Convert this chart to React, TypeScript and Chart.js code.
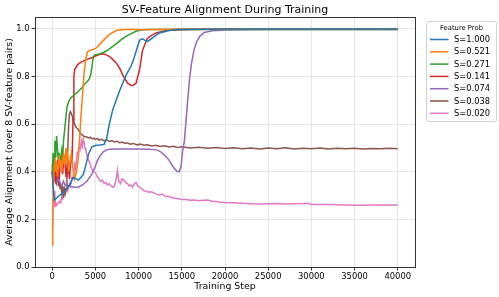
import React, { useEffect, useRef } from "react";
import { Chart, registerables } from "chart.js";

Chart.register(...registerables);

const chartTitle = "SV-Feature Alignment During Training";
const xAxisTitle = "Training Step";
const yAxisTitle = "Average Alignment (over 8 SV-feature pairs)";
const legendTitle = "Feature Prob";
const xTickValues = [0, 5000, 10000, 15000, 20000, 25000, 30000, 35000, 40000];
const yTickValues = [0, 0.2, 0.4, 0.6, 0.8, 1.0];

const seriesLabels = ["S=1.000", "S=0.521", "S=0.271", "S=0.141", "S=0.074", "S=0.038", "S=0.020"];
const seriesColors = ["#1f77b4", "#ff7f0e", "#2ca02c", "#d62728", "#9467bd", "#8c564b", "#e377c2"];

const blueSteps = [0, 100, 250, 500, 800, 1200, 1500, 1800, 2100, 2400, 2700, 3000, 3300, 3600, 3900, 4200, 4600, 5000, 5500, 6000, 6300, 6600, 7000, 7400, 7800, 8150, 8600, 9100, 9400, 9700, 10100, 10450, 10750, 11050, 11600, 12000, 12400, 13500, 14500, 16000, 20000, 30000, 40000];
const blueValues = [0.40, 0.33, 0.28, 0.29, 0.30, 0.31, 0.32, 0.335, 0.35, 0.375, 0.372, 0.365, 0.375, 0.39, 0.43, 0.475, 0.505, 0.51, 0.512, 0.515, 0.54, 0.60, 0.66, 0.70, 0.74, 0.772, 0.81, 0.842, 0.87, 0.905, 0.952, 0.958, 0.952, 0.948, 0.962, 0.973, 0.983, 0.993, 0.997, 0.999, 1.0, 1.0, 1.0];

const orangeSteps = [0, 50, 100, 200, 300, 400, 500, 600, 700, 800, 900, 1000, 1100, 1200, 1300, 1400, 1500, 1600, 1700, 1800, 1900, 2000, 2200, 2400, 2600, 2800, 3000, 3100, 3300, 3500, 3700, 3900, 4100, 4400, 4800, 5100, 5460, 6000, 6600, 7400, 8150, 9500, 10500, 12000, 15000, 40000];
const orangeValues = [0.09, 0.17, 0.30, 0.42, 0.46, 0.40, 0.44, 0.38, 0.43, 0.47, 0.42, 0.45, 0.40, 0.44, 0.48, 0.43, 0.46, 0.50, 0.44, 0.47, 0.40, 0.43, 0.48, 0.41, 0.37, 0.40, 0.45, 0.50, 0.62, 0.72, 0.82, 0.88, 0.905, 0.91, 0.915, 0.92, 0.934, 0.955, 0.976, 0.993, 0.997, 0.997, 0.996, 0.998, 1.0, 1.0];

const greenSteps = [0, 100, 200, 300, 400, 500, 600, 700, 800, 900, 1000, 1100, 1200, 1300, 1500, 1700, 1900, 2150, 2600, 3000, 3500, 3800, 4200, 4400, 4550, 4700, 4850, 5460, 6000, 6500, 7000, 7500, 8000, 8540, 9000, 9700, 10200, 10800, 12000, 40000];
const greenValues = [0.40, 0.48, 0.43, 0.53, 0.46, 0.55, 0.50, 0.44, 0.48, 0.42, 0.46, 0.49, 0.45, 0.53, 0.60, 0.67, 0.695, 0.71, 0.725, 0.737, 0.755, 0.77, 0.785, 0.80, 0.83, 0.87, 0.89, 0.895, 0.902, 0.913, 0.927, 0.94, 0.955, 0.969, 0.978, 0.99, 0.995, 0.997, 0.998, 0.998];

const redSteps = [0, 100, 200, 300, 400, 500, 600, 700, 800, 900, 1000, 1100, 1200, 1300, 1400, 1500, 1600, 1700, 1800, 1900, 2000, 2100, 2200, 2300, 2400, 2500, 2600, 2800, 3000, 3500, 4000, 4500, 5000, 5500, 6000, 6600, 7000, 7400, 7800, 8150, 8700, 9100, 9400, 9700, 10100, 10450, 11000, 11600, 12000, 13200, 15000, 18000, 40000];
const redValues = [0.40, 0.36, 0.43, 0.38, 0.35, 0.41, 0.45, 0.40, 0.37, 0.42, 0.46, 0.43, 0.39, 0.44, 0.47, 0.42, 0.38, 0.41, 0.44, 0.40, 0.37, 0.42, 0.46, 0.44, 0.62, 0.80, 0.83, 0.842, 0.852, 0.864, 0.872, 0.878, 0.886, 0.893, 0.895, 0.885, 0.872, 0.857, 0.835, 0.807, 0.773, 0.762, 0.764, 0.772, 0.828, 0.91, 0.96, 0.975, 0.983, 0.993, 0.996, 0.999, 0.999];

const purpleSteps = [0, 100, 200, 300, 400, 500, 700, 900, 1100, 1300, 1500, 1800, 2100, 2500, 3000, 3500, 4000, 4500, 4900, 5200, 5500, 5900, 6400, 7000, 8000, 9000, 10000, 11000, 12000, 12500, 13000, 13500, 14000, 14400, 14700, 14900, 15100, 15300, 15500, 15700, 15900, 16100, 16400, 16700, 17100, 17600, 18500, 20000, 25000, 30000, 40000];
const purpleValues = [0.43, 0.38, 0.42, 0.36, 0.39, 0.35, 0.37, 0.355, 0.34, 0.36, 0.345, 0.34, 0.338, 0.335, 0.335, 0.345, 0.36, 0.385, 0.415, 0.445, 0.465, 0.484, 0.494, 0.496, 0.496, 0.496, 0.496, 0.495, 0.493, 0.485, 0.47, 0.45, 0.42, 0.403, 0.40, 0.42, 0.49, 0.53, 0.62, 0.71, 0.79, 0.85, 0.91, 0.945, 0.97, 0.985, 0.992, 0.995, 0.997, 0.998, 0.998];

const brownSteps = [0, 100, 200, 300, 400, 500, 600, 700, 800, 900, 1000, 1100, 1200, 1300, 1400, 1500, 1600, 1700, 1800, 1900, 2000, 2100, 2200, 2300, 2400, 2500, 2600, 2700, 2800, 3000, 3200, 3400, 3700, 4000, 4200, 4400, 4600, 4800, 5000, 5200, 5400, 5700, 6000, 6300, 6600, 6900, 7200, 7500, 7800, 8100, 8400, 8700, 9000, 9400, 9800, 10200, 10600, 11000, 11500, 12000, 12500, 13000, 13500, 14000, 14500, 15000, 16000, 17000, 18000, 19000, 20000, 21000, 22000, 23000, 24000, 25000, 26000, 27000, 28000, 29000, 30000, 31000, 32000, 33000, 34000, 35000, 36000, 37000, 38000, 39000, 40000];
const brownValues = [0.40, 0.35, 0.43, 0.38, 0.42, 0.36, 0.40, 0.34, 0.37, 0.33, 0.35, 0.31, 0.34, 0.29, 0.33, 0.31, 0.33, 0.40, 0.50, 0.60, 0.645, 0.653, 0.645, 0.635, 0.62, 0.61, 0.60, 0.59, 0.585, 0.578, 0.565, 0.556, 0.548, 0.546, 0.542, 0.545, 0.538, 0.541, 0.536, 0.540, 0.533, 0.536, 0.530, 0.534, 0.527, 0.531, 0.525, 0.528, 0.522, 0.525, 0.519, 0.522, 0.516, 0.519, 0.513, 0.516, 0.511, 0.513, 0.508, 0.511, 0.506, 0.509, 0.504, 0.507, 0.502, 0.505, 0.500, 0.503, 0.499, 0.502, 0.498, 0.501, 0.497, 0.500, 0.496, 0.500, 0.497, 0.501, 0.496, 0.499, 0.497, 0.500, 0.496, 0.499, 0.497, 0.499, 0.496, 0.498, 0.497, 0.499, 0.497];

const pinkSteps = [0, 50, 100, 200, 300, 400, 500, 600, 700, 800, 900, 1000, 1100, 1200, 1300, 1400, 1500, 1600, 1700, 1800, 1900, 2000, 2100, 2200, 2300, 2400, 2500, 2600, 2700, 2800, 2900, 3000, 3100, 3200, 3300, 3400, 3500, 3600, 3700, 3800, 3900, 4000, 4200, 4400, 4600, 4800, 5000, 5200, 5400, 5600, 5800, 6000, 6200, 6400, 6600, 6800, 7000, 7200, 7400, 7550, 7700, 7900, 8100, 8300, 8500, 8700, 8900, 9100, 9300, 9500, 9700, 9900, 10100, 10300, 10600, 10900, 11200, 11500, 11800, 12100, 12400, 12700, 13000, 13500, 14000, 14500, 15000, 15500, 16000, 16500, 17000, 17500, 18000, 18500, 19000, 19500, 20000, 21000, 22000, 23000, 24000, 25000, 26000, 27000, 28000, 29000, 29500, 30000, 31000, 32000, 33000, 34000, 35000, 36000, 37000, 38000, 39000, 40000];
const pinkValues = [0.17, 0.22, 0.28, 0.32, 0.25, 0.27, 0.26, 0.265, 0.27, 0.275, 0.27, 0.28, 0.29, 0.285, 0.30, 0.31, 0.305, 0.32, 0.33, 0.32, 0.34, 0.35, 0.34, 0.36, 0.38, 0.37, 0.40, 0.43, 0.41, 0.45, 0.48, 0.47, 0.50, 0.52, 0.50, 0.53, 0.51, 0.535, 0.52, 0.50, 0.49, 0.47, 0.45, 0.43, 0.41, 0.40, 0.395, 0.38, 0.37, 0.36, 0.365, 0.35, 0.355, 0.345, 0.35, 0.34, 0.335, 0.34, 0.37, 0.405, 0.36, 0.35, 0.37, 0.365, 0.355, 0.35, 0.34, 0.345, 0.335, 0.35, 0.355, 0.34, 0.335, 0.33, 0.32, 0.318, 0.314, 0.316, 0.31, 0.305, 0.303, 0.306, 0.298, 0.296, 0.29, 0.288, 0.284, 0.283, 0.28, 0.281, 0.278, 0.28, 0.281, 0.276, 0.275, 0.272, 0.271, 0.27, 0.268, 0.266, 0.265, 0.266, 0.267, 0.265, 0.266, 0.267, 0.268, 0.263, 0.263, 0.262, 0.261, 0.26, 0.259, 0.259, 0.26, 0.26, 0.26, 0.26];

const seriesSteps = [blueSteps, orangeSteps, greenSteps, redSteps, purpleSteps, brownSteps, pinkSteps];
const seriesValues = [blueValues, orangeValues, greenValues, redValues, purpleValues, brownValues, pinkValues];

const FONT = '"DejaVu Sans", "Liberation Sans", sans-serif';

const decorPlugin = {
  id: "decor",
  afterDraw(chart: any) {
    const { ctx, chartArea: a } = chart;
    ctx.save();
    ctx.strokeStyle = "#333333";
    ctx.lineWidth = 1;
    ctx.strokeRect(Math.round(a.left) + 0.5, Math.round(a.top) + 0.5, Math.round(a.right - a.left), Math.round(a.bottom - a.top));
    ctx.fillStyle = "#000000";
    ctx.font = `11px ${FONT}`;
    ctx.textAlign = "center";
    ctx.textBaseline = "middle";
    ctx.fillText(chartTitle, (a.left + a.right) / 2, 10);
    const bx = 426.5, by = 21.5, bw = 70, bh = 100, r = 2;
    ctx.beginPath();
    ctx.moveTo(bx + r, by);
    ctx.lineTo(bx + bw - r, by);
    ctx.arcTo(bx + bw, by, bx + bw, by + r, r);
    ctx.lineTo(bx + bw, by + bh - r);
    ctx.arcTo(bx + bw, by + bh, bx + bw - r, by + bh, r);
    ctx.lineTo(bx + r, by + bh);
    ctx.arcTo(bx, by + bh, bx, by + bh - r, r);
    ctx.lineTo(bx, by + r);
    ctx.arcTo(bx, by, bx + r, by, r);
    ctx.closePath();
    ctx.fillStyle = "rgba(255,255,255,0.9)";
    ctx.fill();
    ctx.strokeStyle = "#d0d0d0";
    ctx.lineWidth = 1;
    ctx.stroke();
    ctx.fillStyle = "#000000";
    ctx.font = `6.8px ${FONT}`;
    ctx.textAlign = "center";
    ctx.fillText(legendTitle, bx + bw / 2, 28.5);
    ctx.font = `8.3px ${FONT}`;
    ctx.textAlign = "left";
    seriesLabels.forEach((lab, i) => {
      const yy = 39.5 + i * 12.3;
      ctx.strokeStyle = seriesColors[i];
      ctx.lineWidth = 1.5;
      ctx.beginPath();
      ctx.moveTo(430, yy);
      ctx.lineTo(448.5, yy);
      ctx.stroke();
      ctx.fillStyle = "#000000";
      ctx.fillText(lab, 454, yy + 0.5);
    });
    ctx.restore();
  },
};

export default function App() {
  const canvasRef = useRef<HTMLCanvasElement | null>(null);
  useEffect(() => {
    if (!canvasRef.current) return;
    const datasets = seriesLabels.map((label, i) => ({
      label,
      data: seriesSteps[i].map((s, j) => ({ x: s, y: seriesValues[i][j] })),
      borderColor: seriesColors[i],
      backgroundColor: seriesColors[i],
      borderWidth: 1.5,
      pointRadius: 0,
      tension: 0,
      fill: false,
    }));
    const chart = new Chart(canvasRef.current, {
      type: "line",
      data: { datasets },
      plugins: [decorPlugin],
      options: {
        responsive: false,
        animation: false,
        devicePixelRatio: 1,
        layout: { padding: { top: 17, right: 84, left: 0, bottom: 0 } },
        plugins: { legend: { display: false }, title: { display: false }, tooltip: { enabled: false } },
        scales: {
          x: {
            type: "linear",
            min: -2000,
            max: 42000,
            afterBuildTicks: (axis: any) => {
              axis.ticks = xTickValues.map((v) => ({ value: v }));
            },
            afterFit: (s: any) => {
              s.height = 30;
            },
            ticks: {
              font: { family: FONT, size: 8.4 },
              color: "#000000",
              padding: 1,
              maxRotation: 0,
              autoSkip: false,
              callback: (v: any) => String(v),
            },
            grid: { color: "#e6e6e6", tickColor: "#333333", tickLength: 3.5, drawTicks: true },
            border: { display: false },
            title: { display: true, text: xAxisTitle, font: { family: FONT, size: 9.4 }, color: "#000000", padding: { top: 0, bottom: 5 } },
          },
          y: {
            type: "linear",
            min: 0,
            max: 1.05,
            afterBuildTicks: (axis: any) => {
              axis.ticks = yTickValues.map((v) => ({ value: v }));
            },
            afterFit: (s: any) => {
              s.width = 35;
            },
            ticks: {
              font: { family: FONT, size: 8.4 },
              color: "#000000",
              padding: 2,
              autoSkip: false,
              callback: (v: any) => Number(v).toFixed(1),
            },
            grid: { color: "#e6e6e6", tickColor: "#333333", tickLength: 3.5, drawTicks: true },
            border: { display: false },
            title: { display: true, text: yAxisTitle, font: { family: FONT, size: 9.4 }, color: "#000000", padding: { top: 4, bottom: 0 } },
          },
        },
      } as any,
    });
    return () => chart.destroy();
  }, []);
  return (
    <div style={{ position: "fixed", left: 0, top: 0, width: 499, height: 297, background: "#ffffff" }}>
      <canvas ref={canvasRef} width={499} height={297} style={{ width: 499, height: 297, display: "block" }} />
    </div>
  );
}
